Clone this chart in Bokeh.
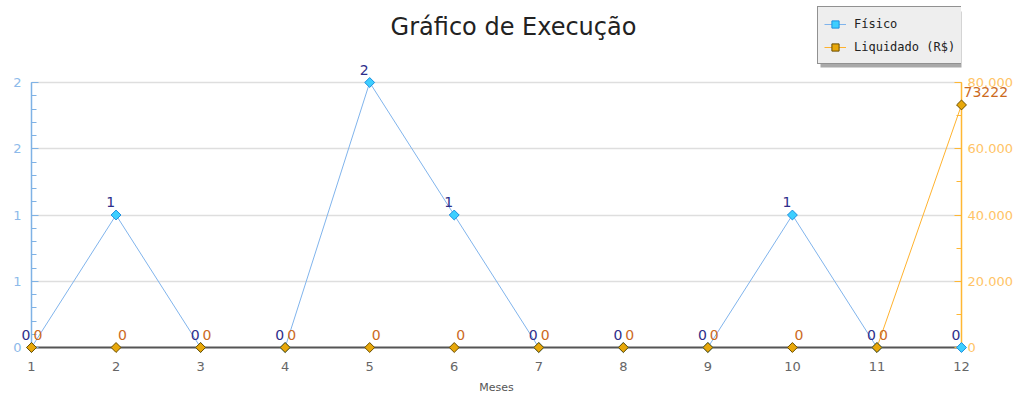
from bokeh.plotting import figure
from bokeh.models import (Range1d, LinearAxis, SingleIntervalTicker, Label, BoxAnnotation,
                          CustomJSTickFormatter, Legend, LegendItem)
from bokeh.embed import file_html
from bokeh.resources import INLINE
from bokeh.core.properties import value

meses = [1, 2, 3, 4, 5, 6, 7, 8, 9, 10, 11, 12]
fisico = [0, 1, 0, 0, 2, 1, 0, 0, 0, 1, 0, 0]
liquidado = [0, 0, 0, 0, 0, 0, 0, 0, 0, 0, 0, 73222]
fisico_max = 2
liquidado_max = 80000
titulo = "Gráfico de Execução"
serie_nomes = ["Físico", "Liquidado (R$)"]

FONT = value("DejaVu Sans")

W, H = 1015, 397
B_LEFT, B_RIGHT, B_BOTTOM = 31, 53, 50
FRAME_H = H - B_BOTTOM          # frame runs from the very top of the figure
TOP_PAD = 82                    # empty room above the data area (title + legend)
stretch = FRAME_H / (FRAME_H - TOP_PAD)

p = figure(width=W, height=H, output_backend="svg", toolbar_location=None, title=None,
           x_range=Range1d(1, 12), y_range=Range1d(0, fisico_max * stretch),
           min_border_left=B_LEFT, min_border_right=B_RIGHT, min_border_top=0,
           min_border_bottom=B_BOTTOM,
           background_fill_color="white", border_fill_color="white")
p.extra_y_ranges = {"liq": Range1d(0, liquidado_max * stretch)}
p.outline_line_color = None
p.xgrid.visible = False
p.ygrid.grid_line_color = "#DEDEDE"
p.ygrid.grid_line_width = 1.5
p.ygrid.bounds = (0, fisico_max)

# x axis
xa = p.xaxis[0]
xa.ticker = SingleIntervalTicker(interval=1, num_minor_ticks=0)
xa.major_tick_line_color = None
xa.minor_tick_line_color = None
xa.axis_line_color = "#555555"
xa.axis_line_width = 2
xa.major_label_text_font = "DejaVu Sans"
xa.major_label_text_font_size = "13px"
xa.major_label_text_color = "#666666"
xa.major_label_standoff = 8
xa.axis_label = "Meses"
xa.axis_label_text_font = "DejaVu Sans"
xa.axis_label_text_font_size = "11px"
xa.axis_label_text_font_style = "normal"
xa.axis_label_text_color = "#555555"
xa.axis_label_standoff = 7

# left axis
ya = p.yaxis[0]
ya.bounds = (0, fisico_max)
ya.ticker = SingleIntervalTicker(interval=0.5, num_minor_ticks=5)
ya.formatter = CustomJSTickFormatter(code="return Math.round(tick).toString();")
ya.axis_line_color = "#7FB2E5"
ya.axis_line_width = 1.5
ya.major_tick_line_color = "#7FB2E5"
ya.minor_tick_line_color = "#7FB2E5"
ya.major_tick_in = 7
ya.major_tick_out = 0
ya.minor_tick_in = 5
ya.minor_tick_out = 0
ya.major_label_text_font = "DejaVu Sans"
ya.major_label_text_font_size = "13px"
ya.major_label_text_color = "#8DBAEA"
ya.major_label_standoff = 10

# right axis
ra = LinearAxis(y_range_name="liq", bounds=(0, liquidado_max),
                ticker=SingleIntervalTicker(interval=20000, num_minor_ticks=2),
                formatter=CustomJSTickFormatter(
                    code="return tick.toFixed(0).replace(/\\B(?=(\\d{3})+(?!\\d))/g, '.');"))
ra.axis_line_color = "#FFB733"
ra.axis_line_width = 1.5
ra.major_tick_line_color = "#FFB733"
ra.minor_tick_line_color = "#FFB733"
ra.major_tick_in = 7
ra.major_tick_out = 0
ra.minor_tick_in = 5
ra.minor_tick_out = 0
ra.major_label_text_font = "DejaVu Sans"
ra.major_label_text_font_size = "13px"
ra.major_label_text_color = "#FFC466"
ra.major_label_standoff = 6
p.add_layout(ra, "right")

# series
lf = p.line(meses, fisico, line_color="#80B4EC", line_width=1)
sf = p.scatter(meses, fisico, marker="square", angle=0.785398, size=7,
               fill_color="#3DCFFF", line_color="#1E8FE0", line_width=1, level="overlay")
ll = p.line(meses, liquidado, y_range_name="liq", line_color="#FFB22E", line_width=1)
sl = p.scatter(meses, liquidado, y_range_name="liq", marker="square", angle=0.785398, size=7,
               fill_color="#E8A80A", line_color="#6B4E00", line_width=1, level="overlay")

# value labels (glyphs at overlay level so they are not clipped by the frame)
p.text(meses, fisico, text=[str(v) for v in fisico], text_align="right",
       text_baseline="alphabetic", x_offset=-1, y_offset=-13,
       text_font=FONT, text_font_size="14px", text_color="#2E2E8A", level="overlay")
p.text(meses, liquidado, text=[str(v) for v in liquidado], y_range_name="liq",
       text_align="left", text_baseline="alphabetic", x_offset=2, y_offset=-13,
       text_font=FONT, text_font_size="14px", text_color="#CC6A1E", level="overlay")

# title (inside the frame's empty top band)
p.add_layout(Label(x=482, y=FRAME_H - 26, x_units="screen", y_units="screen", text=titulo,
                   text_align="center", text_baseline="alphabetic", text_font="DejaVu Sans",
                   text_font_size="24px", text_color="#222222"))

# legend shadow + legend
LEG_X, LEG_Y, LEG_W, LEG_H = 786, FRAME_H - 64, 143, 56
p.add_layout(BoxAnnotation(left=LEG_X + 3, right=LEG_X + LEG_W + 3,
                           bottom=LEG_Y - 3, top=LEG_Y + LEG_H - 3,
                           left_units="screen", right_units="screen",
                           bottom_units="screen", top_units="screen",
                           fill_color="#A0A0A0", fill_alpha=0.9, line_color=None))
legend = Legend(items=[LegendItem(label=serie_nomes[0], renderers=[lf, sf]),
                       LegendItem(label=serie_nomes[1], renderers=[ll, sl])],
                location=(LEG_X, LEG_Y), orientation="vertical",
                padding=6, spacing=2, margin=0, glyph_width=22, glyph_height=18,
                label_height=21, label_width=90, label_standoff=8,
                label_text_font="DejaVu Sans Mono", label_text_font_size="12px",
                label_text_color="#222222",
                background_fill_color="#EEEEEE", background_fill_alpha=1,
                border_line_color="#333333", border_line_width=1.5)
p.add_layout(legend, "center")

open("out.html", "w").write(file_html(p, INLINE))
